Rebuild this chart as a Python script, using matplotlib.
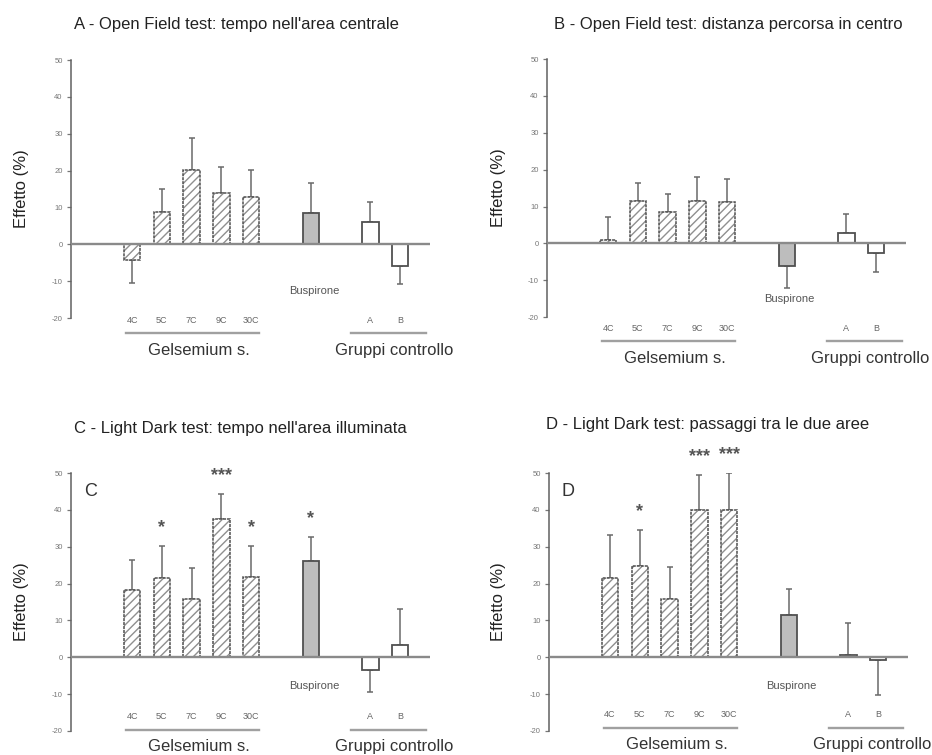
import numpy as np
import matplotlib.pyplot as plt

plt.rcParams['font.family'] = ['Liberation Sans', 'DejaVu Sans']
plt.rcParams['axes.unicode_minus'] = False

# gruppi: Gelsemium s. (4C..30C), Buspirone, controlli A e B
gruppi = ['4C', '5C', '7C', '9C', '30C', 'Buspirone', 'A', 'B']
tipo = ['gels'] * 5 + ['busp'] + ['ctrl'] * 2

# A - Open Field: tempo nell'area centrale
a_val = [-4.3, 8.7, 20.1, 14.0, 12.9, 8.4, 6.0, -5.9]
a_err = [6.2, 6.3, 8.7, 7.0, 7.2, 8.3, 5.4, 4.9]
# B - Open Field: distanza percorsa in centro
b_val = [0.9, 11.6, 8.6, 11.4, 11.3, -6.1, 2.9, -2.7]
b_err = [6.3, 4.8, 4.7, 6.6, 6.3, 6.0, 5.1, 5.0]
# C - Light Dark: tempo nell'area illuminata
c_val = [18.3, 21.6, 15.7, 37.6, 21.9, 26.0, -3.4, 3.2]
c_err = [8.2, 8.7, 8.5, 6.8, 8.4, 6.6, 6.1, 9.8]
c_sig = ['', '*', '', '***', '*', '*', '', '']
# D - Light Dark: passaggi tra le due aree
d_val = [21.6, 24.7, 15.9, 40.0, 40.0, 11.5, 0.6, -0.7]
d_err = [11.6, 9.8, 8.6, 9.4, 9.9, 7.0, 8.7, 9.6]
d_sig = ['', '*', '', '***', '***', '', '', '']

titoli = ["A - Open Field test: tempo nell'area centrale",
          "B - Open Field test: distanza percorsa in centro",
          "C - Light Dark test: tempo nell'area illuminata",
          "D - Light Dark test: passaggi tra le due aree"]

x = np.array([0, 1, 2, 3, 4, 6, 8, 9], dtype=float)
bw = 0.55
edge = '#505050'
grey = '#6a6a6a'

fig = plt.figure(figsize=(9.32, 7.55), dpi=100)


def draw_panel(rect, vals, errs, sig, letter, lab_y, busp_y, title_xy, ylab_x):
    ax = fig.add_axes(rect)
    vals = np.array(vals)
    errs = np.array(errs)
    for i in range(len(vals)):
        if tipo[i] == 'gels':
            ax.bar(x[i], vals[i], bw, color='white', hatch='////', edgecolor='#8f8f8f', linewidth=0, zorder=2)
            ax.bar(x[i], vals[i], bw, color='none', edgecolor=edge, linewidth=1.1, linestyle=(0, (2, 0.6)), zorder=3)
        elif tipo[i] == 'busp':
            ax.bar(x[i], vals[i], bw, color='#bdbdbd', edgecolor=edge, linewidth=1.3, zorder=3)
        else:
            ax.bar(x[i], vals[i], bw, color='white', edgecolor=edge, linewidth=1.3, zorder=3)
    lo = np.where(vals < 0, errs, 0)
    hi = np.where(vals >= 0, errs, 0)
    ax.errorbar(x, vals, yerr=[lo, hi], fmt='none', ecolor=grey, elinewidth=1.1, capsize=2.3, capthick=1.1, zorder=1)
    ax.axhline(0, color='#8a8a8a', linewidth=1.7, zorder=4)

    ax.set_xlim(-2.05, 10.0)
    ax.set_ylim(-20, 50)
    ax.set_yticks(np.arange(-20, 51, 10))
    ax.tick_params(axis='y', direction='out', length=3, width=0.9, colors='#777777', labelsize=5.5, pad=3)
    ax.set_xticks([])
    for s in ['top', 'right', 'bottom']:
        ax.spines[s].set_visible(False)
    ax.spines['left'].set_color('#606060')
    ax.spines['left'].set_linewidth(1.1)
    ax.patch.set_alpha(0)

    for i in range(len(vals)):
        if sig is not None and sig[i]:
            ax.text(x[i], vals[i] + errs[i] + 5.0, sig[i], ha='center', va='center',
                    fontsize=13, fontweight='bold', color='#555555', clip_on=False)
        if tipo[i] != 'busp':
            ax.text(x[i], lab_y, gruppi[i], ha='center', va='center', fontsize=6.5, color='#666666', clip_on=False)
    ax.text(x[5] + 0.1, busp_y, 'Buspirone', ha='center', va='center', fontsize=8, color='#555555')

    ax.plot([x[0] - 0.2, x[4] + 0.25], [lab_y - 3.6, lab_y - 3.6], color='#a0a0a0', lw=1.7, clip_on=False)
    ax.plot([x[6] - 0.65, x[7] + 0.85], [lab_y - 3.6, lab_y - 3.6], color='#a0a0a0', lw=1.7, clip_on=False)
    ax.text(x[2] + 0.25, lab_y - 8.2, 'Gelsemium s.', ha='center', va='center', fontsize=12, color='#333333', clip_on=False)
    ax.text((x[6] + x[7]) / 2 + 0.3, lab_y - 8.2, 'Gruppi controllo', ha='center', va='center', fontsize=12, color='#333333', clip_on=False)

    if letter:
        ax.text(-1.4, 45, letter, ha='center', va='center', fontsize=13, color='#333333')

    fig.text(title_xy[0] / 932, 1 - title_xy[1] / 755, title_xy[2], ha='center', va='center', fontsize=12, color='#222222')
    fig.text(ylab_x / 932, rect[1] + rect[3] * 0.5, 'Effetto (%)', rotation=90, ha='center', va='center', fontsize=12, color='#222222')
    return ax


draw_panel([0.0762, 0.5788, 0.3852, 0.3417], a_val, a_err, None, '', -20.6, -12.6, (236, 25, titoli[0]), 22)
draw_panel([0.5869, 0.5800, 0.3852, 0.3417], b_val, b_err, None, '', -23.0, -15.2, (728, 25, titoli[1]), 499)
draw_panel([0.0762, 0.0318, 0.3852, 0.3417], c_val, c_err, c_sig, 'C', -16.1, -7.9, (240, 428, titoli[2]), 22)
draw_panel([0.5890, 0.0318, 0.3852, 0.3417], d_val, d_err, d_sig, 'D', -15.5, -7.7, (708, 424, titoli[3]), 499)

fig.savefig('out.png', dpi=100)
